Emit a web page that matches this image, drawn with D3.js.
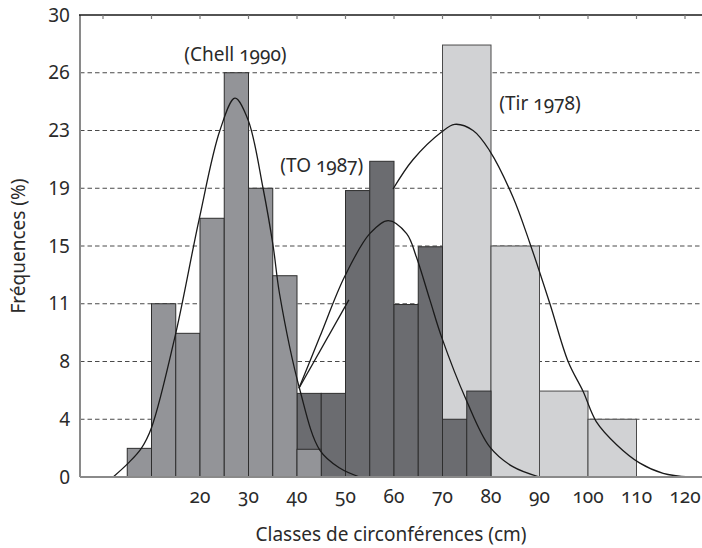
<!DOCTYPE html>
<html>
<head>
<meta charset="utf-8">
<script src="https://cdn.jsdelivr.net/npm/d3@7"></script>
<style>
  body { margin: 0; background: #fff; }
  svg { font-family: "Noto Sans", "Open Sans", sans-serif; }
  .onum { font-variant-numeric: oldstyle-nums; font-feature-settings: "onum" 1; }
</style>
</head>
<body>
<div id="chart"></div>
<script>
// classes (lower bound, cm) and frequencies (%)
let chellClasses = [5, 10, 15, 20, 25, 30, 35, 40];
let chellValues  = [1.86, 11.25, 9.33, 16.8, 26.25, 18.75, 13.07, 1.8];
let toClasses = [40, 45, 50, 55, 60, 65, 70, 75];
let toValues  = [5.43, 5.43, 18.6, 20.5, 11.2, 14.95, 3.75, 5.58];
let tirClasses = [70, 80, 90, 100];
let tirValues  = [28.05, 15.0, 5.58, 3.75];
let chellWidth = 5, toWidth = 5, tirWidth = 10;

// fitted curves as [cm, %]
let chellCurve = [[2.1,0],[5.2,0.9],[7.9,1.86],[10,3.2],[15,9.33],[19.8,16.7],[24.1,22.5],[27.2,24.6],[29.9,23.2],[33,18.75],[35.1,14.95],[36.4,11.9],[40.6,5.65],[44.7,1.75],[48.8,0.58],[52.9,0]];
let toCurve = [[40.4,5.76],[44.7,9.1],[49.8,13.0],[55,15.8],[58.8,16.65],[62.6,15.8],[64.6,14.3],[67.4,11.5],[69.8,9.1],[74.9,5.0],[79.7,1.97],[84.5,0.67],[90,0]];
let tirCurve = [[59.8,18.7],[63.9,20.6],[69.8,22.4],[72.5,22.9],[76.3,22.5],[79.7,21.2],[84.5,18.2],[88,15.2],[92.1,11.3],[95.9,7.5],[99,5.55],[101.7,3.6],[105.9,2.1],[110.7,0.9],[115.5,0.24],[121,0]];
let toLeader = [[40.4,5.76],[50.7,11.5]];

let labelNames = ["(Chell 1990)", "(TO 1987)", "(Tir 1978)"];
let labelPos = [[27.3,27.0],[45.1,19.8],[90.1,23.8]];

let xTickValues = [20,30,40,50,60,70,80,90,100,110,120];
let topTickValues = [0,10,20,30,40,50,60,70,80,90,100,110,120];
let yTickLabels = ["0","4","8","11","15","19","23","26","30"];

let width = 702, height = 548;
let mLeft = 80, mTop = 15, mBottom = 477;

let svg = d3.select("#chart").append("svg")
    .attr("width", width)
    .attr("height", height);

let x = d3.scaleLinear().domain([0, 120]).range([103, 685]);
let y = d3.scaleLinear().domain([0, 30]).range([mBottom, mTop]);
let yTicks = yTickLabels.map(function (d, i) { return i * 30 / (yTickLabels.length - 1); });

// dashed grid
svg.append("g")
    .selectAll("line")
    .data(yTicks.slice(1, -1))
    .enter()
    .append("line")
    .attr("x1", mLeft)
    .attr("x2", width)
    .attr("y1", function (d) { return y(d); })
    .attr("y2", function (d) { return y(d); })
    .style("stroke", "#4a4a4a")
    .style("stroke-width", 1)
    .style("stroke-dasharray", "4.5,3");

function DrawBars(classes, values, w, fill, stroke) {
    svg.append("g")
        .selectAll("rect")
        .data(classes)
        .enter()
        .append("rect")
        .attr("x", function (d) { return x(d); })
        .attr("y", function (d, i) { return y(values[i]); })
        .attr("width", function (d) { return x(d + w) - x(d); })
        .attr("height", function (d, i) { return y(0) - y(values[i]); })
        .style("fill", fill)
        .style("stroke", stroke)
        .style("stroke-width", 1);
}

DrawBars(tirClasses, tirValues, tirWidth, "#d1d2d4", "#4a4a4a");
DrawBars(toClasses, toValues, toWidth, "#6b6c70", "#2e2e2e");
DrawBars(chellClasses, chellValues, chellWidth, "#939498", "#2e2e2e");

let line = d3.line()
    .x(function (d) { return x(d[0]); })
    .y(function (d) { return y(d[1]); })
    .curve(d3.curveCatmullRom.alpha(0.5));
let straight = d3.line()
    .x(function (d) { return x(d[0]); })
    .y(function (d) { return y(d[1]); });

[chellCurve, toCurve, tirCurve, toLeader].forEach(function (c, i) {
    svg.append("path")
        .attr("d", i == 3 ? straight(c) : line(c))
        .style("fill", "none")
        .style("stroke", "#1a1a1a")
        .style("stroke-width", 1.3);
});

svg.selectAll(".lbl")
    .data(labelNames)
    .enter()
    .append("text")
    .attr("class", "lbl onum")
    .attr("x", function (d, i) { return x(labelPos[i][0]); })
    .attr("y", function (d, i) { return y(labelPos[i][1]); })
    .attr("text-anchor", "middle")
    .style("font-size", "19px")
    .style("fill", "#2a2a2a")
    .text(function (d) { return d; });

// axes
svg.append("line")
    .attr("x1", mLeft).attr("x2", mLeft)
    .attr("y1", mTop).attr("y2", mBottom)
    .style("stroke", "#8a8a8a").style("stroke-width", 2);
svg.append("line")
    .attr("x1", mLeft).attr("x2", width)
    .attr("y1", mBottom).attr("y2", mBottom)
    .style("stroke", "#8a8a8a").style("stroke-width", 2);
svg.append("line")
    .attr("x1", mLeft - 1).attr("x2", width)
    .attr("y1", mTop).attr("y2", mTop)
    .style("stroke", "#1a1a1a").style("stroke-width", 1.5);

svg.append("g")
    .selectAll("line")
    .data(topTickValues)
    .enter()
    .append("line")
    .attr("x1", function (d) { return x(d); })
    .attr("x2", function (d) { return x(d); })
    .attr("y1", mTop)
    .attr("y2", mTop + 4)
    .style("stroke", "#777")
    .style("stroke-width", 1.2);

svg.append("g")
    .selectAll("text")
    .data(yTicks)
    .enter()
    .append("text")
    .attr("x", mLeft - 10)
    .attr("y", function (d) { return y(d); })
    .attr("dy", "0.35em")
    .attr("text-anchor", "end")
    .style("font-size", "19px")
    .style("fill", "#2a2a2a")
    .text(function (d, i) { return yTickLabels[i]; });

svg.append("g")
    .selectAll("text")
    .data(xTickValues)
    .enter()
    .append("text")
    .attr("class", "onum")
    .attr("x", function (d) { return x(d); })
    .attr("y", 503)
    .attr("text-anchor", "middle")
    .style("font-size", "19px")
    .style("fill", "#2a2a2a")
    .text(function (d) { return d; });

svg.append("text")
    .attr("x", 391)
    .attr("y", 541)
    .attr("text-anchor", "middle")
    .style("font-size", "19px")
    .style("fill", "#2a2a2a")
    .text("Classes de circonférences (cm)");

svg.append("text")
    .attr("transform", "translate(25,246) rotate(-90)")
    .attr("text-anchor", "middle")
    .style("font-size", "19px")
    .style("fill", "#2a2a2a")
    .text("Fréquences (%)");
</script>
</body>
</html>
